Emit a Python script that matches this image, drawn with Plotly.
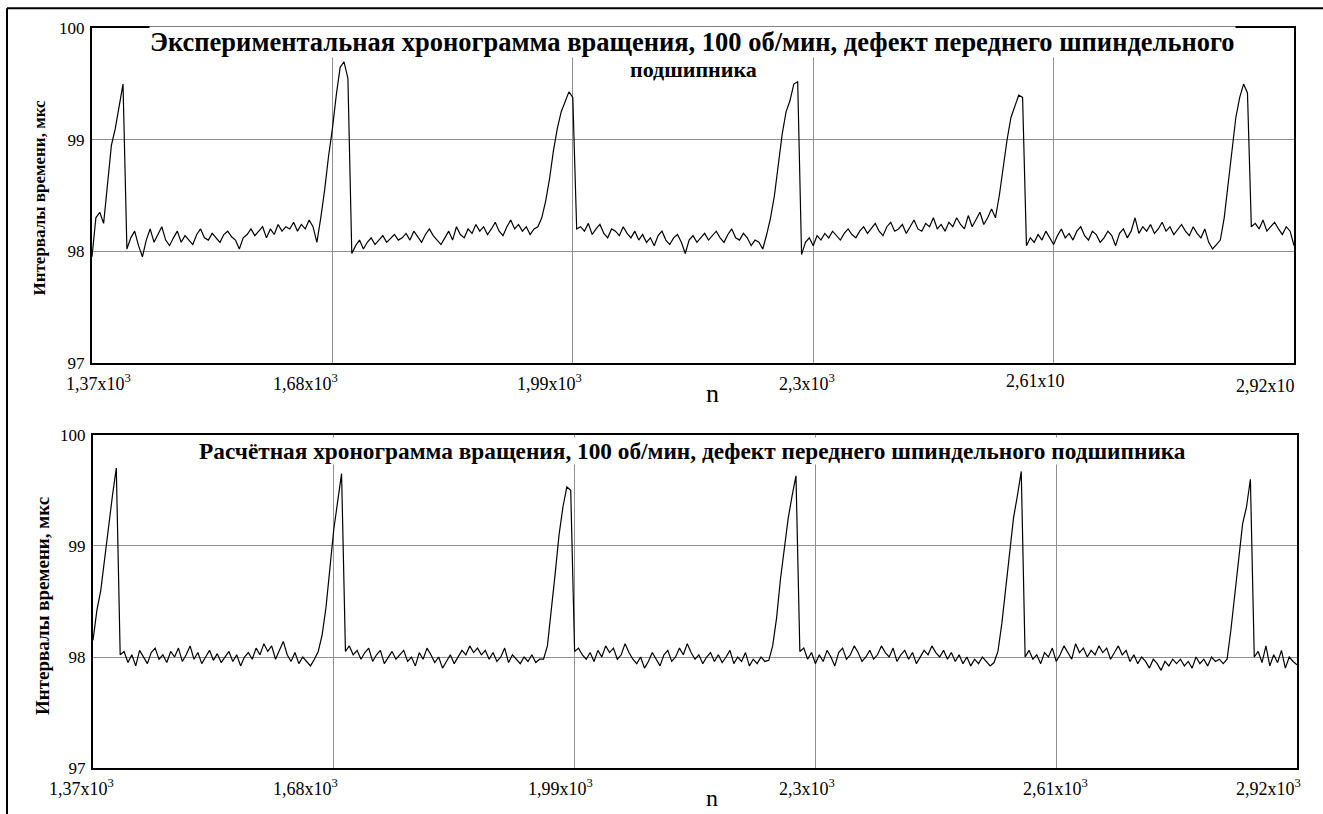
import plotly.graph_objects as go

# ---------------- data ----------------
n_start, n_stop, n_step = 1370, 2920, 5
n_values = list(range(n_start, n_stop + 1, n_step))

# Experimental chronogram (top)
t_exp = [
    97.95, 98.30, 98.35, 98.25, 98.60, 98.95, 99.10, 99.30, 99.50, 98.02,
    98.12, 98.18, 98.05, 97.95, 98.10, 98.20, 98.08, 98.15, 98.22, 98.10,
    98.05, 98.12, 98.18, 98.08, 98.14, 98.10, 98.06, 98.15, 98.20, 98.12,
    98.10, 98.16, 98.12, 98.08, 98.15, 98.18, 98.13, 98.10, 98.02, 98.12,
    98.15, 98.20, 98.14, 98.18, 98.22, 98.12, 98.20, 98.15, 98.24, 98.18,
    98.22, 98.20, 98.26, 98.18, 98.24, 98.20, 98.28, 98.22,
    98.08, 98.30, 98.55, 98.85, 99.10, 99.40, 99.65, 99.70, 99.55, 97.98,
    98.05, 98.10, 98.02, 98.08, 98.12, 98.06, 98.10, 98.14, 98.08, 98.12, 98.15, 98.10,
    98.12, 98.16, 98.10, 98.18, 98.13, 98.08, 98.15, 98.20, 98.14, 98.10,
    98.06, 98.12, 98.18, 98.10, 98.22, 98.15, 98.12, 98.20, 98.16, 98.24,
    98.18, 98.22, 98.15, 98.20, 98.26, 98.18, 98.14, 98.22, 98.28, 98.20, 98.24, 98.18, 98.22, 98.15, 98.20,
    98.22, 98.30, 98.45, 98.65, 98.90, 99.10, 99.25, 99.35, 99.43, 99.38, 98.20,
    98.22, 98.18, 98.25, 98.15, 98.20, 98.24, 98.16, 98.12, 98.20, 98.18, 98.14, 98.22, 98.16, 98.12,
    98.18, 98.10, 98.15, 98.08, 98.12, 98.05, 98.14, 98.18, 98.10, 98.06,
    98.12, 98.15, 98.08, 97.98, 98.10, 98.14, 98.08, 98.12, 98.16, 98.10,
    98.14, 98.18, 98.12, 98.08, 98.15, 98.20, 98.12, 98.10, 98.16, 98.12, 98.05, 98.10, 98.08, 98.02,
    98.15, 98.30, 98.50, 98.80, 99.05, 99.25, 99.35, 99.50, 99.52, 97.97,
    98.08, 98.12, 98.05, 98.14, 98.10, 98.16, 98.12, 98.18, 98.14, 98.10, 98.16, 98.20, 98.15, 98.12, 98.18, 98.22,
    98.16, 98.20, 98.25, 98.18, 98.14, 98.22, 98.26, 98.18, 98.20, 98.24,
    98.16, 98.22, 98.28, 98.20, 98.18, 98.25, 98.22, 98.30, 98.20, 98.24,
    98.18, 98.26, 98.22, 98.30, 98.24, 98.20, 98.32, 98.22, 98.28, 98.35, 98.24, 98.30, 98.38,
    98.30, 98.50, 98.75, 99.00, 99.20, 99.30, 99.40, 99.38, 98.05,
    98.12, 98.08, 98.15, 98.10, 98.18, 98.12, 98.06, 98.14, 98.20, 98.12, 98.16, 98.10, 98.18, 98.22, 98.14, 98.10, 98.18, 98.15,
    98.08, 98.12, 98.18, 98.14, 98.05, 98.16, 98.20, 98.12, 98.18, 98.30,
    98.16, 98.22, 98.18, 98.24, 98.16, 98.20, 98.26, 98.18, 98.22, 98.15,
    98.20, 98.24, 98.18, 98.14, 98.22, 98.16, 98.12, 98.20, 98.08, 98.02, 98.06, 98.10,
    98.30, 98.60, 98.95, 99.20, 99.38, 99.50, 99.42, 98.22,
    98.25, 98.20, 98.28, 98.18, 98.22, 98.26, 98.20, 98.15, 98.22, 98.18, 98.05,
]

# Calculated chronogram (bottom)
t_calc = [
    98.15, 98.42, 98.60, 98.90, 99.20, 99.45, 99.70, 98.02,
    98.05, 97.95, 98.02, 97.92, 98.06, 98.00, 97.94, 98.04, 98.08, 97.98, 98.02, 97.95,
    98.05, 98.00, 98.08, 97.96, 98.02, 98.10, 97.98, 98.04, 97.94, 98.00,
    98.06, 97.97, 98.03, 97.95, 98.00, 98.05, 97.96, 98.02, 97.92, 98.00,
    98.04, 97.98, 98.08, 98.02, 98.12, 98.05, 98.10, 97.98, 98.06, 98.14, 98.02, 97.96, 98.04, 97.94, 98.00, 97.96, 97.92,
    97.98, 98.05, 98.20, 98.45, 98.80, 99.15, 99.40, 99.65, 98.05,
    98.10, 98.02, 98.06, 97.98, 98.04, 98.08, 97.96, 98.02, 98.06, 97.94, 98.00, 98.05, 97.98, 98.02,
    98.06, 97.96, 98.00, 97.92, 98.04, 97.98, 98.08, 98.02, 97.95, 98.00,
    97.90, 97.96, 98.02, 97.94, 98.00, 98.06, 98.02, 98.10, 98.04, 98.08,
    98.02, 98.06, 97.98, 98.04, 97.96, 98.00, 98.08, 97.95, 98.02, 97.98, 97.94, 98.00, 97.96, 98.02, 97.95, 97.98,
    97.98, 98.10, 98.40, 98.75, 99.10, 99.35, 99.53, 99.50, 98.05,
    98.08, 98.02, 97.98, 98.04, 97.96, 98.06, 98.00, 98.10, 98.04, 98.08, 97.98, 98.02, 98.12, 98.04, 97.98,
    97.94, 98.00, 97.90, 97.96, 98.04, 97.98, 97.92, 98.02, 98.06, 97.96,
    98.00, 98.08, 98.02, 98.12, 98.04, 97.98, 98.02, 97.94, 98.00, 98.04,
    97.96, 98.02, 97.95, 98.00, 98.06, 97.94, 98.00, 97.96, 98.04, 97.92, 97.98, 97.94, 98.00, 97.96,
    97.97, 98.10, 98.35, 98.70, 99.00, 99.25, 99.45, 99.63, 98.05,
    98.08, 97.98, 98.04, 97.94, 98.02, 97.96, 98.06, 98.00, 97.92, 98.04, 98.08, 97.98, 98.02, 98.10, 98.04, 97.96, 98.00,
    98.06, 97.98, 98.02, 98.10, 98.04, 98.00, 98.08, 97.96, 98.02, 98.06,
    97.98, 98.04, 97.94, 98.00, 98.06, 98.02, 98.10, 98.04, 98.00, 98.06,
    97.98, 98.04, 97.96, 98.02, 97.94, 98.00, 97.92, 97.98, 97.94, 98.00, 97.96, 97.92,
    97.95, 98.05, 98.30, 98.60, 98.95, 99.25, 99.45, 99.67, 98.00,
    98.06, 97.98, 98.02, 97.94, 98.04, 98.00, 98.08, 97.96, 98.02, 98.10, 98.04, 97.98, 98.12, 98.04, 98.08, 98.00, 98.06, 98.02, 98.10,
    98.04, 98.08, 97.98, 98.04, 98.10, 98.02, 98.06, 97.96, 98.02, 97.94,
    98.00, 97.96, 97.90, 97.98, 97.94, 97.88, 97.96, 97.92, 97.98, 97.94,
    97.98, 97.92, 97.96, 97.90, 98.00, 97.94, 97.98, 97.92, 98.00, 97.96, 97.98, 97.94,
    97.98, 98.25, 98.55, 98.90, 99.20, 99.35, 99.60, 98.00,
    98.05, 97.95, 98.10, 97.92, 98.02, 97.95, 98.06, 97.90, 98.00, 97.96, 97.93,
]

assert len(t_exp) == len(n_values), (len(t_exp), len(n_values))
assert len(t_calc) == len(n_values), (len(t_calc), len(n_values))

y_ticks = [97, 98, 99, 100]
x_grid = [1680, 1990, 2300, 2610]
top_xlabels = ["1,37x10<sup>3</sup>", "1,68x10<sup>3</sup>", "1,99x10<sup>3</sup>",
               "2,3x10<sup>3</sup>", "2,61x10", "2,92x10"]
bot_xlabels = ["1,37x10<sup>3</sup>", "1,68x10<sup>3</sup>", "1,99x10<sup>3</sup>",
               "2,3x10<sup>3</sup>", "2,61x10<sup>3</sup>", "2,92x10<sup>3</sup>"]
title_top_1 = "Экспериментальная хронограмма вращения, 100 об/мин, дефект переднего шпиндельного"
title_top_2 = "подшипника"
title_bot = "Расчётная хронограмма вращения, 100 об/мин, дефект переднего шпиндельного подшипника"
y_title = "Интервалы времени, мкс"
x_title = "n"

# ---------------- layout helpers ----------------
W, H = 1323, 814
FONT = "Liberation Serif, Times New Roman, Tinos, DejaVu Serif, serif"
# the capture places the page slightly lower and shorter; compensate
Y_OFF, Y_SCALE = 8.7, 0.9756


def px(x):
    return x / W


def py(y):
    y_set = (y - Y_OFF) / Y_SCALE
    return 1 - y_set / H


fig = go.Figure()
fig.add_trace(go.Scatter(x=n_values, y=t_exp, mode="lines",
                         line=dict(color="black", width=1.2),
                         xaxis="x", yaxis="y", showlegend=False))
fig.add_trace(go.Scatter(x=n_values, y=t_calc, mode="lines",
                         line=dict(color="black", width=1.2),
                         xaxis="x2", yaxis="y2", showlegend=False))

axis_common = dict(showline=True, linecolor="black", linewidth=2, mirror=True,
                   showgrid=True, gridcolor="#8f8f8f", gridwidth=1,
                   zeroline=False, ticks="")
xax = dict(range=[1370, 2920], tickvals=x_grid, showticklabels=False, **axis_common)
yax = dict(range=[97, 100], tickvals=y_ticks, ticktext=[str(v) for v in y_ticks],
           tickfont=dict(family=FONT, size=17, color="black"),
           ticklabelstandoff=2, **axis_common)

fig.update_layout(
    width=W, height=H,
    margin=dict(l=0, r=0, t=0, b=0),
    paper_bgcolor="white", plot_bgcolor="white",
    font=dict(family=FONT, color="black"),
    xaxis=dict(domain=[px(92), px(1294)], anchor="y", **xax),
    yaxis=dict(domain=[py(362), py(28)], anchor="x", **yax),
    xaxis2=dict(domain=[px(93), px(1297)], anchor="y2", **xax),
    yaxis2=dict(domain=[py(767), py(434)], anchor="x2", **yax),
    showlegend=False,
)

ann = []
# titles
ann.append(dict(text="<b>" + title_top_1 + "</b>",
                x=px(692), y=py(42), xref="paper", yref="paper",
                xanchor="center", yanchor="middle", showarrow=False,
                font=dict(family=FONT, size=26.5, color="black"),
                bgcolor="white", borderpad=0))
ann.append(dict(text="<b>" + title_top_2 + "</b>",
                x=px(693), y=py(69), xref="paper", yref="paper",
                xanchor="center", yanchor="middle", showarrow=False,
                font=dict(family=FONT, size=22, color="black"),
                bgcolor="white", borderpad=0))
ann.append(dict(text="<b>" + title_bot + "</b>",
                x=px(692), y=py(450), xref="paper", yref="paper",
                xanchor="center", yanchor="middle", showarrow=False,
                font=dict(family=FONT, size=23.3, color="black"),
                bgcolor="white", borderpad=0))
# y titles
ann.append(dict(text="<b>" + y_title + "</b>", x=px(40), y=py(197),
                xref="paper", yref="paper", textangle=-90, showarrow=False,
                xanchor="center", yanchor="middle",
                font=dict(family=FONT, size=17, color="black")))
ann.append(dict(text="<b>" + y_title + "</b>", x=px(43), y=py(605),
                xref="paper", yref="paper", textangle=-90, showarrow=False,
                xanchor="center", yanchor="middle",
                font=dict(family=FONT, size=19, color="black")))
# x titles
for yy, fs in ((393, 26), (797, 24)):
    ann.append(dict(text=x_title, x=px(712), y=py(yy), xref="paper", yref="paper",
                    showarrow=False, xanchor="center", yanchor="middle",
                    font=dict(family=FONT, size=fs, color="black"), borderpad=0))
# x tick labels
top_lx = [65, 272, 516, 778, 1005, 1235]
top_ly = [382, 382, 382, 382, 380, 385]
for t, lx, ly in zip(top_xlabels, top_lx, top_ly):
    ann.append(dict(text=t, x=px(lx), y=py(ly), xref="paper", yref="paper",
                    showarrow=False, xanchor="left", yanchor="middle",
                    font=dict(family=FONT, size=18, color="black"), borderpad=0))
bot_lx = [48, 272, 527, 778, 1022, 1235]
for t, lx in zip(bot_xlabels, bot_lx):
    ann.append(dict(text=t, x=px(lx), y=py(786), xref="paper", yref="paper",
                    showarrow=False, xanchor="left", yanchor="middle",
                    font=dict(family=FONT, size=18, color="black"), borderpad=0))
fig.update_layout(annotations=ann)

# outer frame (left and top edges visible)
fig.add_shape(type="line", xref="paper", yref="paper",
              x0=px(7), x1=px(7), y0=-0.02, y1=py(8),
              line=dict(color="black", width=2))
fig.add_shape(type="line", xref="paper", yref="paper",
              x0=px(7), x1=1.02, y0=py(8), y1=py(8),
              line=dict(color="black", width=2))

fig.write_html(
    "out.html",
    config={"displayModeBar": False},
    post_script=(
        "document.documentElement.style.margin='0';"
        "document.body.style.margin='0';"
        "document.body.style.overflow='hidden';"
        "var d=document.getElementById('{plot_id}');"
        "d.style.position='fixed';d.style.top='0px';d.style.left='0px';"
    ),
)
